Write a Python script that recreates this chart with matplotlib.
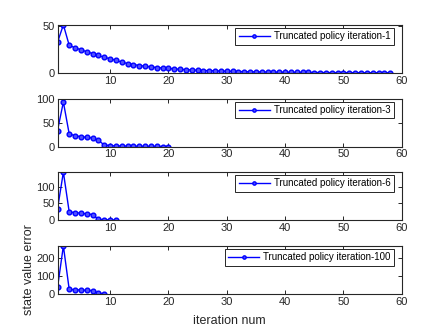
import numpy as np
import matplotlib
matplotlib.use('Agg')
import matplotlib.pyplot as plt

plt.rcParams['font.family'] = ['Liberation Sans', 'DejaVu Sans']

# state value error per iteration for each truncation length
err_tpi1 = [33, 51.8, 29.7, 27.0, 24.9, 22.8, 20.8, 18.7, 16.8, 15.2, 13.5, 11.6, 10.0, 8.9,
            7.9, 7.1, 6.4, 5.7, 5.1, 4.7, 4.2, 3.8, 3.4, 3.1, 2.8, 2.5, 2.3, 2.1, 1.9,
            1.7, 1.5, 1.4, 1.25, 1.1, 1.0, 0.9, 0.8, 0.72, 0.65, 0.58, 0.52, 0.47, 0.42,
            0.38, 0.34, 0.31, 0.28, 0.25, 0.22, 0.2, 0.18, 0.16, 0.15, 0.13, 0.12, 0.11,
            0.1, 0.09]
err_tpi3 = [33.6, 93, 26.4, 22.9, 20.7, 19.3, 17.9, 12.9, 3.6, 2.1, 1.5, 1.2, 1.0, 0.8,
            0.6, 0.5, 0.4, 0.3, 0.2, 0.2]
err_tpi6 = [34, 144, 24.5, 22.5, 20.6, 18.6, 16.7, 2.0, 1.0, 0.5, 0.3]
err_tpi100 = [36, 267, 25, 23.6, 21.8, 20.0, 18.0, 3.6, 1.8]

series = [err_tpi1, err_tpi3, err_tpi6, err_tpi100]
names = ['Truncated policy iteration-1', 'Truncated policy iteration-3',
         'Truncated policy iteration-6', 'Truncated policy iteration-100']
ytop = [max(err_tpi1), 100, max(err_tpi6), max(err_tpi100)]
yticks = [[0, 50], [0, 50, 100], [0, 50, 100], [0, 100, 200]]

gray = '#262626'
fig = plt.figure(figsize=(4.46, 3.31), dpi=100)
left, width, height = 0.129, 0.772, 0.145
bottoms = [0.780, 0.557, 0.335, 0.112]

for k in range(4):
    ax = fig.add_axes([left, bottoms[k], width, height])
    y = series[k]
    x = np.arange(1, len(y) + 1)
    ax.plot(x, y, '-o', color='blue', lw=1.0, ms=3.4, mfc='#5050ff', mew=1.0,
            label=names[k])
    ax.set_xlim(1, 60)
    ax.set_ylim(0, ytop[k])
    ax.set_xticks([10, 20, 30, 40, 50, 60])
    ax.set_yticks(yticks[k])
    ax.tick_params(direction='in', length=3, width=0.7, top=True, right=True,
                   labelsize=8, colors=gray, pad=2)
    for s in ax.spines.values():
        s.set_linewidth(0.8)
        s.set_color(gray)
    leg = ax.legend(loc='upper right', fontsize=7, fancybox=False, framealpha=1,
                    edgecolor=gray, borderpad=0.35, handlelength=3.2,
                    handletextpad=0.4, borderaxespad=0.3, markerscale=0.7,
                    bbox_to_anchor=(0.985, 1.0))
    leg.get_frame().set_linewidth(0.7)
    if k == 3:
        ax.set_ylabel('state value error', fontsize=9, color=gray, labelpad=1)
        ax.set_xlabel('iteration num', fontsize=9, color=gray, labelpad=6)

fig.savefig('out.png', dpi=100)
